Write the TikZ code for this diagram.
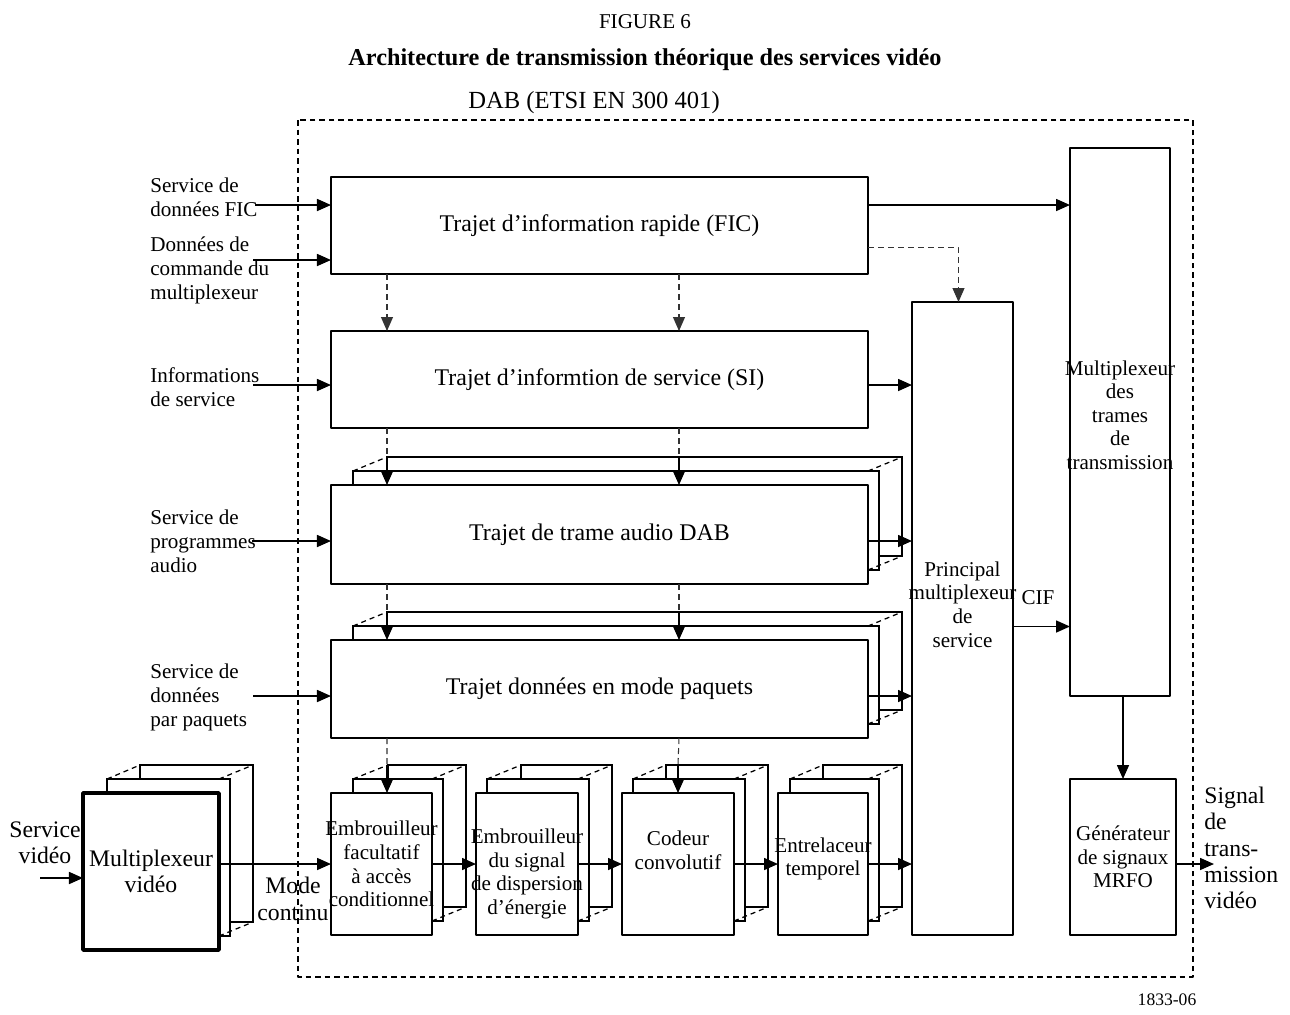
\documentclass[tikz,border=0pt]{standalone}
\usepackage{fontspec}
\setmainfont{Liberation Serif}
\usetikzlibrary{arrows.meta,backgrounds}
% back layers of a stacked block: node, left offset of layer 2, left offset of layer 3
\newcommand{\stackback}[3]{%
	\draw[layer] ([shift={(#3,-28)}]#1.north west) rectangle ([shift={(34,-28)}]#1.south east);
	\draw[layer] ([shift={(#2,-14)}]#1.north west) rectangle ([shift={(11,-14)}]#1.south east);
	\draw[hid] ([shift={(#2,-14)}]#1.north west) -- ([shift={(#3,-28)}]#1.north west);
	\draw[hid] ([shift={(0,-14)}]#1.north east) -- ([shift={(34,-28)}]#1.north east);
	\draw[hid] ([shift={(0,-14)}]#1.south east) -- ([shift={(34,-28)}]#1.south east);}
\begin{document}
\begin{tikzpicture}[x=0.2mm, y=-0.2mm, line join=round,
		blk/.style={draw, line width=0.9pt, fill=white, inner sep=1pt, outer sep=0pt, align=center, font=\fontsize{13.6}{15.5}\selectfont},
		txt/.style={align=center, inner sep=0pt, font=\fontsize{12}{13.4}\selectfont},
		lbl/.style={align=left, anchor=west, inner sep=0pt, font=\fontsize{12}{13.7}\selectfont},
		big/.style={font=\fontsize{13.5}{15}\selectfont},
		layer/.style={line width=0.9pt, fill=white},
		hid/.style={line width=0.7pt, dash pattern=on 1mm off 0.8mm},
		tip/.style={-{Triangle[length=2.8mm,width=2.4mm]}},
		arr/.style={line width=0.9pt, tip},
		ctl/.style={line width=0.6pt, black!80, dash pattern=on 1.2mm off 0.8mm},
		frame/.style={line width=1.1pt, dash pattern=on 1.1mm off 0.8mm}]
	\useasboundingbox (0,0) rectangle (1290,1014);
	% titles
	\node[font=\fontsize{12}{14}\selectfont] (fig) at (645,22) {FIGURE 6};
	\node[font=\bfseries\fontsize{13.8}{16}\selectfont] (title) at (645,60) {Architecture de transmission théorique des services vidéo};
	\node[font=\fontsize{14}{16}\selectfont] (dab) at (594,103) {DAB (ETSI EN 300 401)};
	\node[font=\fontsize{10}{12}\selectfont] (ref) at (1167,1000) {1833-06};
	\draw[frame] (298,120) rectangle (1193,977);
	% paths
	\node[blk, minimum width=107.4mm, minimum height=19.4mm] (fic) at (599.5,225.5) {Trajet d'information rapide (FIC)};
	\node[blk, minimum width=107.4mm, minimum height=19.4mm] (si) at (599.5,379.5) {Trajet d'informtion de service (SI)};
	\node[blk, minimum width=107.4mm, minimum height=19.8mm] (audio) at (599.5,534.5) {Trajet de trame audio DAB};
	\node[blk, minimum width=107.4mm, minimum height=19.6mm] (packet) at (599.5,689) {Trajet données en mode paquets};
	% multiplexers
	\node[blk, minimum width=20.2mm, minimum height=126.6mm] (pmux) at (962.5,618.5) {};
	\node[txt] (pmuxtxt) at ([shift={(0,-14)}]pmux) {Principal\\multiplexeur\\de\\service};
	\node[blk, minimum width=20mm, minimum height=109.6mm] (tmux) at (1120,422) {};
	\node[txt] (tmuxtxt) at ([shift={(0,-7)}]tmux) {Multiplexeur\\des\\trames\\de\\transmission};
	\node[blk, minimum width=21.2mm, minimum height=31.2mm] (gen) at (1123,857) {};
	\node[txt] (gentxt) at (gen) {Générateur\\de signaux\\MRFO};
	% stream mode chain
	\node[blk, line width=2pt, minimum width=27.2mm, minimum height=31.4mm] (vmux) at (151,871.5) {};
	\node[txt, big] (vmuxtxt) at (vmux) {Multiplexeur\\vidéo};
	\node[blk, minimum width=20.2mm, minimum height=28.4mm] (embrfac) at (381.5,864) {};
	\node[txt] (embrfactxt) at (embrfac) {Embrouilleur\\facultatif\\à accès\\conditionnel};
	\node[blk, minimum width=20.4mm, minimum height=28.4mm] (embrsig) at (527,864) {};
	\node[txt] (embrsigtxt) at ([shift={(0,10)}]embrsig) {Embrouilleur\\du signal\\de dispersion\\d'énergie};
	\node[blk, minimum width=22.4mm, minimum height=28.4mm] (codeur) at (678,864) {};
	\node[txt] (codeurtxt) at ([shift={(0,-14)}]codeur) {Codeur\\convolutif};
	\node[blk, minimum width=18mm, minimum height=28.4mm] (entrel) at (823,864) {};
	\node[txt] (entreltxt) at ([shift={(0,-5)}]entrel) {Entrelaceur\\temporel};
	\begin{scope}[on background layer]
		\stackback{audio}{22}{56}
		\stackback{packet}{22}{56}
		\stackback{vmux}{24}{57}
		\stackback{embrfac}{22}{57}
		\stackback{embrsig}{11}{45}
		\stackback{codeur}{11}{44}
		\stackback{entrel}{12}{45}
	\end{scope}
	% inputs
	\node[lbl] (lfic) at (150,197) {Service de\\données FIC};
	\node[lbl] (lcmd) at (150,270) {Données de\\commande du\\multiplexeur};
	\node[lbl] (lsi) at (150,387.5) {Informations\\de service};
	\node[lbl] (laudio) at (150,541) {Service de\\programmes\\audio};
	\node[lbl] (lpacket) at (150,697) {Service de\\données\\par paquets};
	\node[txt, big] (lvid) at (45,843) {Service\\vidéo};
	\node[txt, big] (lmode) at (293,899) {Mode\\continu};
	\node[lbl, big] (lsig) at (1204,848) {Signal\\de\\trans-\\mission\\vidéo};
	\node[txt] (ciflbl) at (1038,598) {CIF};
	\coordinate (infic) at (255,205);
	\coordinate (incmd) at (253,260);
	\coordinate (insi) at (253,385);
	\coordinate (inaudio) at (252,541);
	\coordinate (inpacket) at (253,696);
	\coordinate (invid) at (40,878);
	\draw[arr] (infic) -- (infic -| fic.west);
	\draw[arr] (incmd) -- (incmd -| fic.west);
	\draw[arr] (insi) -- (insi -| si.west);
	\draw[arr] (inaudio) -- (inaudio -| audio.west);
	\draw[arr] (inpacket) -- (inpacket -| packet.west);
	\draw[arr] (invid) -- (invid -| vmux.west);
	% control paths
	\draw[ctl, tip] ([shift={(56,0)}]fic.south west) -- ([shift={(56,0)}]si.north west);
	\draw[ctl, tip] ([shift={(348,0)}]fic.south west) -- ([shift={(348,0)}]si.north west);
	\draw[ctl] ([shift={(56,0)}]si.south west) -- ([shift={(56,-28)}]audio.north west);
	\draw[arr] ([shift={(56,-28)}]audio.north west) -- ([shift={(56,0)}]audio.north west);
	\draw[ctl] ([shift={(348,0)}]si.south west) -- ([shift={(348,-28)}]audio.north west);
	\draw[arr] ([shift={(348,-28)}]audio.north west) -- ([shift={(348,0)}]audio.north west);
	\draw[ctl] ([shift={(56,0)}]audio.south west) -- ([shift={(56,-28)}]packet.north west);
	\draw[arr] ([shift={(56,-28)}]packet.north west) -- ([shift={(56,0)}]packet.north west);
	\draw[ctl] ([shift={(348,0)}]audio.south west) -- ([shift={(348,-28)}]packet.north west);
	\draw[arr] ([shift={(348,-28)}]packet.north west) -- ([shift={(348,0)}]packet.north west);
	\draw[ctl] ([shift={(56,0)}]packet.south west) -- ([shift={(56,-28)}]embrfac.north west);
	\draw[arr] ([shift={(56,-28)}]embrfac.north west) -- ([shift={(56,0)}]embrfac.north west);
	\draw[ctl] ([shift={(348,0)}]packet.south west) -- ([shift={(0,-28)}]codeur.north);
	\draw[arr] ([shift={(0,-28)}]codeur.north) -- (codeur.north);
	\draw[ctl, tip] ([shift={(0,22)}]fic.east) -| ([shift={(-4,0)}]pmux.north);
	% outputs
	\draw[arr] (infic -| fic.east) -- (infic -| tmux.west);
	\draw[arr] (insi -| si.east) -- (insi -| pmux.west);
	\draw[arr] (inaudio -| audio.east) -- (inaudio -| pmux.west);
	\draw[arr] (inpacket -| packet.east) -- (inpacket -| pmux.west);
	\draw[arr] (embrfac.west -| vmux.east) -- (embrfac.west);
	\draw[arr] (embrfac.east) -- (embrsig.west);
	\draw[arr] (embrsig.east) -- (codeur.west);
	\draw[arr] (codeur.east) -- (entrel.west);
	\draw[arr] (entrel.east) -- (entrel.east -| pmux.west);
	\coordinate (cif) at ([shift={(0,8)}]pmux.east);
	\draw[arr] (cif) -- (cif -| tmux.west);
	\draw[arr] (gen.north |- tmux.south) -- (gen.north);
	\coordinate (sigout) at (1214,864);
	\draw[arr] (sigout -| gen.east) -- (sigout);
\end{tikzpicture}
\end{document}
